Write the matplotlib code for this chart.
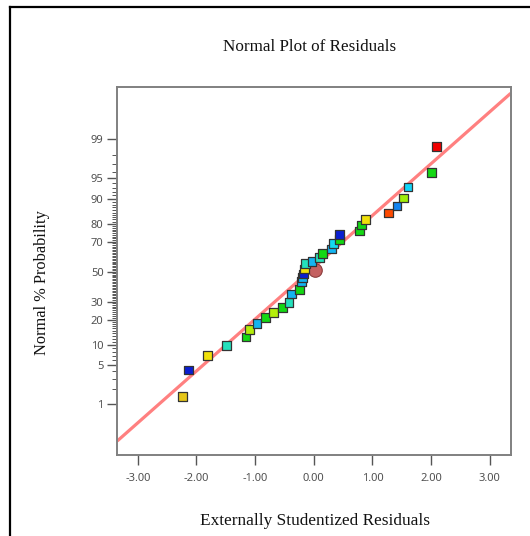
import numpy as np
import matplotlib
matplotlib.use("Agg")
import matplotlib.pyplot as plt
from matplotlib.lines import Line2D
from statistics import NormalDist

# ---- data ----
residuals = [-2.242, -2.133, -1.816, -1.491, -1.155, -1.099, -0.968, -0.819, -0.683,
             -0.536, -0.4215, -0.375, -0.242, -0.212, -0.191, -0.172, -0.152, -0.145,
             -0.029, 0.096, 0.155, 0.307, 0.343, 0.437, 0.440, 0.778, 0.812, 0.881,
             1.271, 1.422, 1.529, 1.609, 2.014, 2.099]
prob_pct = [1.42, 4.23, 7.03, 9.83, 12.6, 15.6, 18.3, 21.0, 23.8,
            26.5, 29.6, 34.8, 37.9, 43.0, 46.0, 48.4, 51.9, 55.6,
            57.1, 60.0, 62.7, 65.5, 68.7, 71.3, 74.3, 76.2, 79.3, 82.1,
            84.8, 87.5, 90.2, 93.1, 95.9, 98.6]
point_colors = ["#e6c619", "#0a1ed2", "#f0e10a", "#24e0bc", "#14d814", "#b4ee0a",
                "#14b4f0", "#14d814", "#b4ee0a", "#14d814", "#24e0bc", "#14b4f0",
                "#14d814", "#14b4f0", "#14b4f0", "#0a1ed2", "#f0e10a", "#24e0bc",
                "#14b4f0", "#24e0bc", "#14d814", "#14b4f0", "#14d8f0", "#14d814",
                "#0a1ed2", "#14d814", "#14d814", "#f0e10a", "#ff4a00", "#1484f0",
                "#a0ee0a", "#14d4f8", "#14d814", "#f00000"]
highlight_x = [0.019]
highlight_pct = [51.5]
line_x = [-3.35, 3.36]
line_pct = [0.149, 99.912]

major_ticks = [1, 5, 10, 20, 30, 50, 70, 80, 90, 95, 99]
minor_ticks = ([2, 3, 4] + list(range(6, 10)) + list(range(11, 20)) + list(range(21, 30))
               + list(range(31, 50)) + list(range(51, 70)) + list(range(71, 80))
               + list(range(81, 90)) + [91, 92, 93, 94, 96, 97, 98])
x_ticks = [-3, -2, -1, 0, 1, 2, 3]

# ---- probability scale ----
_nd = NormalDist()
def _fwd(p):
    p = np.asarray(p, dtype=float)
    q = np.clip(p / 100.0, 1e-9, 1 - 1e-9)
    out = np.vectorize(lambda v: _nd.inv_cdf(v) if np.isfinite(v) else np.nan)(q)
    return out
def _inv(z):
    z = np.asarray(z, dtype=float)
    return np.vectorize(lambda v: _nd.cdf(v) * 100.0 if np.isfinite(v) else np.nan)(z)

fig = plt.figure(figsize=(5.30, 5.36), dpi=100)
ax = fig.add_axes([0.2213, 0.1506, 0.7423, 0.6866])
ax.set_yscale('function', functions=(_fwd, _inv))

ax.plot(line_x, line_pct, color="#ff8080", lw=2.3, zorder=2, solid_capstyle='butt')
ax.scatter(highlight_x, highlight_pct, s=95, marker='o', facecolor="#c46060",
           edgecolor="#8c3c3c", linewidths=0.8, zorder=3)
ax.scatter(residuals, prob_pct, s=40, marker='s', c=point_colors,
           edgecolors="#333333", linewidths=0.9, zorder=4)

ax.set_xlim(-3.35, 3.36)
ax.set_ylim(0.0639, 99.939)

ax.set_xticks(x_ticks)
ax.set_xticklabels([f"{v:.2f}" for v in x_ticks])
ax.set_yticks(major_ticks)
ax.set_yticklabels([str(v) for v in major_ticks])
ax.set_yticks(minor_ticks, minor=True)
ax.tick_params(axis='both', which='major', length=7, width=1.0, color="#555555",
               labelsize=8, labelcolor="#505050", pad=3)
ax.tick_params(axis='y', which='minor', length=3.5, width=0.7, color="#555555")
ax.tick_params(axis='x', which='minor', length=0)
for lab in ax.get_xticklabels() + ax.get_yticklabels():
    lab.set_family(['Noto Sans', 'DejaVu Sans'])
ax.tick_params(axis='x', pad=6)

for s in ax.spines.values():
    s.set_color("#808080")
    s.set_linewidth(1.4)

fig.text(0.584, 1 - 46.7 / 536, "Normal Plot of Residuals", ha='center', va='center',
         family='Liberation Serif', fontsize=12.3, color="#111111")
fig.text(314.7 / 530, 1 - 521 / 536, "Externally Studentized Residuals", ha='center',
         va='center', family='Liberation Serif', fontsize=12.4, color="#111111")
fig.text(41.7 / 530, 1 - 283 / 536, "Normal % Probability", ha='center', va='center',
         rotation=90, family='Liberation Serif', fontsize=11.8, color="#111111")

# outer frame (top and left edges)
fig.add_artist(Line2D([10 / 530, 1.0], [1 - 7 / 536, 1 - 7 / 536], transform=fig.transFigure,
                      color='black', lw=1.6))
fig.add_artist(Line2D([10 / 530, 10 / 530], [0.0, 1 - 7 / 536], transform=fig.transFigure,
                      color='black', lw=1.6))

fig.savefig("out.png", dpi=100)
